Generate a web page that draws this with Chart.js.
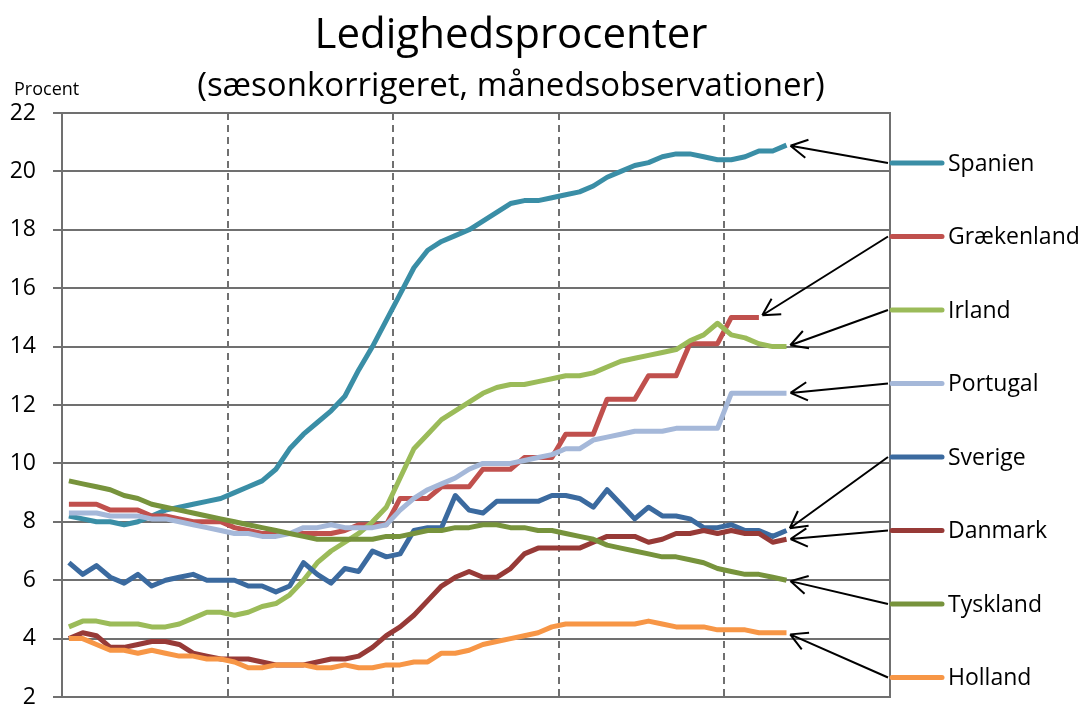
<!DOCTYPE html>
<html>
<head>
<meta charset="utf-8">
<title>Ledighedsprocenter</title>
<script src="https://cdn.jsdelivr.net/npm/chart.js@4/dist/chart.umd.min.js"></script>
<style>
    html, body { margin: 0; padding: 0; background: #fff; overflow: hidden; width: 1084px; height: 704px; }
    #unemploymentChart { display: block; }
</style>
</head>
<body>
<canvas id="unemploymentChart" width="1084" height="704"></canvas>
<script>
// Ledighedsprocenter, sæsonkorrigerede månedstal (jan 2007 - maj 2011)
const years = ['2007', '2008', '2009', '2010', '2011'];
const countries = ['Spanien', 'Grækenland', 'Irland', 'Portugal', 'Sverige', 'Danmark', 'Tyskland', 'Holland'];
const yTicks = [2, 4, 6, 8, 10, 12, 14, 16, 18, 20, 22];

const spanien = [8.2, 8.1, 8.0, 8.0, 7.9, 8.0, 8.2, 8.4, 8.5, 8.6, 8.7, 8.8, 9.0, 9.2, 9.4, 9.8, 10.5, 11.0, 11.4, 11.8,
    12.3, 13.2, 14.0, 14.9, 15.8, 16.7, 17.3, 17.6, 17.8, 18.0, 18.3, 18.6, 18.9, 19.0, 19.0, 19.1, 19.2, 19.3, 19.5, 19.8,
    20.0, 20.2, 20.3, 20.5, 20.6, 20.6, 20.5, 20.4, 20.4, 20.5, 20.7, 20.7, 20.9];
const graekenland = [8.6, 8.6, 8.6, 8.4, 8.4, 8.4, 8.2, 8.2, 8.1, 8.0, 8.0, 8.0, 7.8, 7.7, 7.6, 7.6, 7.6, 7.6, 7.6, 7.6,
    7.7, 7.9, 7.9, 7.9, 8.8, 8.8, 8.8, 9.2, 9.2, 9.2, 9.8, 9.8, 9.8, 10.2, 10.2, 10.2, 11.0, 11.0, 11.0, 12.2,
    12.2, 12.2, 13.0, 13.0, 13.0, 14.1, 14.1, 14.1, 15.0, 15.0, 15.0, null, null];
const irland = [4.4, 4.6, 4.6, 4.5, 4.5, 4.5, 4.4, 4.4, 4.5, 4.7, 4.9, 4.9, 4.8, 4.9, 5.1, 5.2, 5.5, 6.0, 6.6, 7.0,
    7.3, 7.6, 8.0, 8.5, 9.5, 10.5, 11.0, 11.5, 11.8, 12.1, 12.4, 12.6, 12.7, 12.7, 12.8, 12.9, 13.0, 13.0, 13.1, 13.3,
    13.5, 13.6, 13.7, 13.8, 13.9, 14.2, 14.4, 14.8, 14.4, 14.3, 14.1, 14.0, 14.0];
const portugal = [8.3, 8.3, 8.3, 8.2, 8.2, 8.2, 8.1, 8.1, 8.0, 7.9, 7.8, 7.7, 7.6, 7.6, 7.5, 7.5, 7.6, 7.8, 7.8, 7.9,
    7.8, 7.8, 7.8, 7.9, 8.4, 8.8, 9.1, 9.3, 9.5, 9.8, 10.0, 10.0, 10.0, 10.1, 10.2, 10.3, 10.5, 10.5, 10.8, 10.9,
    11.0, 11.1, 11.1, 11.1, 11.2, 11.2, 11.2, 11.2, 12.4, 12.4, 12.4, 12.4, 12.4];
const sverige = [6.6, 6.2, 6.5, 6.1, 5.9, 6.2, 5.8, 6.0, 6.1, 6.2, 6.0, 6.0, 6.0, 5.8, 5.8, 5.6, 5.8, 6.6, 6.2, 5.9,
    6.4, 6.3, 7.0, 6.8, 6.9, 7.7, 7.8, 7.8, 8.9, 8.4, 8.3, 8.7, 8.7, 8.7, 8.7, 8.9, 8.9, 8.8, 8.5, 9.1,
    8.6, 8.1, 8.5, 8.2, 8.2, 8.1, 7.8, 7.8, 7.9, 7.7, 7.7, 7.5, 7.7];
const danmark = [4.0, 4.2, 4.1, 3.7, 3.7, 3.8, 3.9, 3.9, 3.8, 3.5, 3.4, 3.3, 3.3, 3.3, 3.2, 3.1, 3.1, 3.1, 3.2, 3.3,
    3.3, 3.4, 3.7, 4.1, 4.4, 4.8, 5.3, 5.8, 6.1, 6.3, 6.1, 6.1, 6.4, 6.9, 7.1, 7.1, 7.1, 7.1, 7.3, 7.5,
    7.5, 7.5, 7.3, 7.4, 7.6, 7.6, 7.7, 7.6, 7.7, 7.6, 7.6, 7.3, 7.4];
const tyskland = [9.4, 9.3, 9.2, 9.1, 8.9, 8.8, 8.6, 8.5, 8.4, 8.3, 8.2, 8.1, 8.0, 7.9, 7.8, 7.7, 7.6, 7.5, 7.4, 7.4,
    7.4, 7.4, 7.4, 7.5, 7.5, 7.6, 7.7, 7.7, 7.8, 7.8, 7.9, 7.9, 7.8, 7.8, 7.7, 7.7, 7.6, 7.5, 7.4, 7.2,
    7.1, 7.0, 6.9, 6.8, 6.8, 6.7, 6.6, 6.4, 6.3, 6.2, 6.2, 6.1, 6.0];
const holland = [4.0, 4.0, 3.8, 3.6, 3.6, 3.5, 3.6, 3.5, 3.4, 3.4, 3.3, 3.3, 3.2, 3.0, 3.0, 3.1, 3.1, 3.1, 3.0, 3.0,
    3.1, 3.0, 3.0, 3.1, 3.1, 3.2, 3.2, 3.5, 3.5, 3.6, 3.8, 3.9, 4.0, 4.1, 4.2, 4.4, 4.5, 4.5, 4.5, 4.5,
    4.5, 4.5, 4.6, 4.5, 4.4, 4.4, 4.4, 4.3, 4.3, 4.3, 4.2, 4.2, 4.2];

const series = [spanien, graekenland, irland, portugal, sverige, danmark, tyskland, holland];
const colors = ['#3A8EA6', '#C0504D', '#9BBB59', '#A5B8D9', '#3B6A9F', '#973A37', '#77933C', '#F79646'];

const FONT = '"Open Sans", "DejaVu Sans", sans-serif';
const GRID = '#707070';

// Titles and the arrow legend on the right
const arrowLegend = {
    id: 'arrowLegend',
    afterDraw(chart) {
        const { ctx, chartArea } = chart;
        ctx.save();

        ctx.fillStyle = '#000';
        ctx.textAlign = 'center';
        ctx.textBaseline = 'middle';
        ctx.font = '42px ' + FONT;
        ctx.fillText('Ledighedsprocenter', 511, 36);
        ctx.font = '33px ' + FONT;
        ctx.fillText('(sæsonkorrigeret, månedsobservationer)', 511, 87);
        ctx.textAlign = 'left';
        ctx.font = '18px ' + FONT;
        ctx.fillText('Procent', 14, 90);

        countries.forEach((name, i) => {
            const ly = chartArea.top + 50 + i * 73.5;
            const x0 = chartArea.right;

            // legend swatch and label
            ctx.strokeStyle = colors[i];
            ctx.lineWidth = 5;
            ctx.lineCap = 'round';
            ctx.beginPath();
            ctx.moveTo(x0 + 2, ly);
            ctx.lineTo(x0 + 52, ly);
            ctx.stroke();
            ctx.fillStyle = '#000';
            ctx.font = '23px ' + FONT;
            ctx.textBaseline = 'middle';
            ctx.fillText(name, x0 + 58, ly + 1);

            // arrow to the last observation
            const meta = chart.getDatasetMeta(i);
            let last = series[i].length - 1;
            while (last > 0 && series[i][last] === null) last--;
            const pt = meta.data[last];
            const sx = x0 - 2, sy = ly;
            const dx = sx - pt.x, dy = sy - pt.y;
            const len = Math.hypot(dx, dy);
            const ux = dx / len, uy = dy / len;
            const tx = pt.x + ux * 4, ty = pt.y + uy * 4;
            ctx.strokeStyle = '#000';
            ctx.lineWidth = 2;
            ctx.lineCap = 'butt';
            ctx.beginPath();
            ctx.moveTo(sx, sy);
            ctx.lineTo(tx, ty);
            const a = Math.atan2(uy, ux);
            [0.5, -0.5].forEach(da => {
                ctx.moveTo(tx, ty);
                ctx.lineTo(tx + 19 * Math.cos(a + da), ty + 19 * Math.sin(a + da));
            });
            ctx.stroke();
        });

        ctx.restore();
    }
};

function createUnemploymentChart() {
    const ctx = document.getElementById('unemploymentChart');
    if (!ctx) return;

    new Chart(ctx, {
        type: 'line',
        data: {
            datasets: countries.map((name, i) => ({
                label: name,
                data: series[i].map((v, m) => ({ x: m + 0.5, y: v })),
                borderColor: colors[i],
                backgroundColor: colors[i],
                borderWidth: 5,
                borderJoinStyle: 'round',
                pointRadius: 0,
                tension: 0,
                order: countries.length - i
            }))
        },
        options: {
            responsive: false,
            animation: false,
            layout: {
                autoPadding: false,
                padding: { top: 113, right: 194, bottom: 7, left: 0 }
            },
            plugins: {
                legend: { display: false },
                title: { display: false },
                tooltip: { enabled: false }
            },
            scales: {
                x: {
                    type: 'linear',
                    min: 0,
                    max: years.length * 12,
                    ticks: { display: false, stepSize: 12 },
                    grid: {
                        color: c => (c.tick.value === 0 || c.tick.value === years.length * 12) ? 'rgba(0,0,0,0)' : GRID,
                        lineWidth: 2,
                        drawTicks: false
                    },
                    border: { display: false, dash: [7, 5] },
                    afterFit: s => { s.height = 0; }
                },
                y: {
                    min: yTicks[0],
                    max: yTicks[yTicks.length - 1],
                    afterBuildTicks: s => { s.ticks = yTicks.map(v => ({ value: v })); },
                    ticks: {
                        color: '#000',
                        padding: 17,
                        font: { family: FONT, size: 23 }
                    },
                    grid: { color: GRID, lineWidth: 2, tickLength: 9 },
                    border: { display: true, color: GRID, width: 2 },
                    afterFit: s => {
                        s.width = 62;
                        s.paddingTop = 0;
                        s.paddingBottom = 0;
                    }
                },
                yRight: {
                    position: 'right',
                    min: yTicks[0],
                    max: yTicks[yTicks.length - 1],
                    ticks: { display: false },
                    grid: { display: false },
                    border: { display: true, color: GRID, width: 2 },
                    afterFit: s => {
                        s.width = 0;
                        s.paddingTop = 0;
                        s.paddingBottom = 0;
                    }
                }
            }
        },
        plugins: [arrowLegend]
    });
}

createUnemploymentChart();
</script>
</body>
</html>
